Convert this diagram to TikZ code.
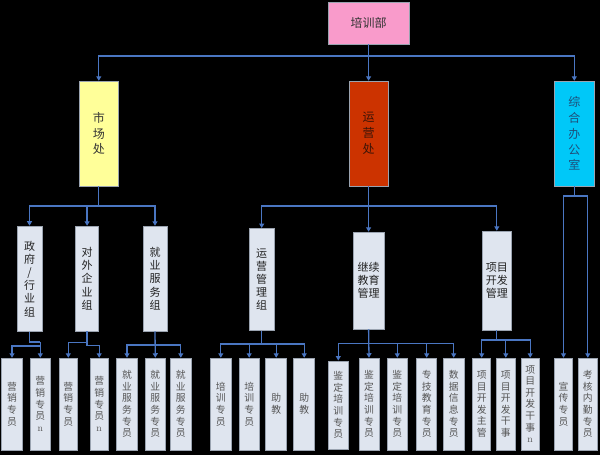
\documentclass[tikz,border=0pt]{standalone}
\usepackage{fontspec}
\newfontfamily\cjk{Noto Sans CJK SC}
\usetikzlibrary{arrows.meta}
\definecolor{linec}{HTML}{4A76C2}
\definecolor{boxfill}{HTML}{DFE5EF}
\definecolor{boxline}{HTML}{9AA3B0}
\definecolor{pinkc}{HTML}{F99BCB}
\definecolor{yellowc}{HTML}{FFFF99}
\definecolor{redc}{HTML}{CC3300}
\definecolor{cyanc}{HTML}{00C8F8}
\definecolor{midtext}{HTML}{222222}
\definecolor{lowtext}{HTML}{555555}
\definecolor{toptext}{HTML}{333333}
\definecolor{offtext}{HTML}{1F4E79}
\definecolor{opstext}{HTML}{3A1408}
\newcommand{\sern}{{\normalfont\rmfamily n}}
\begin{document}
\begin{tikzpicture}[x=1pt,y=-1pt,
  conn/.style={draw=linec, line width=1.3pt},
  arr/.style={conn, -{Triangle[width=5pt,length=4.5pt]}},
  basebox/.style={draw=boxline, line width=0.5pt, inner sep=0pt, align=center},
  topbox/.style={basebox, text=toptext, font=\cjk\fontsize{12}{15.8}\selectfont},
  midbox/.style={basebox, fill=boxfill, text=midtext, font=\cjk\fontsize{11}{13.2}\selectfont},
  lowbox/.style={basebox, fill=boxfill, text=lowtext, font=\cjk\fontsize{9.8}{11.6}\selectfont, minimum height=92pt},
]
\fill[black] (0,0) rectangle (600,455);
\useasboundingbox (0,0) rectangle (600,455);

% top level
\node[topbox, fill=pinkc, minimum width=81.5pt, minimum height=42pt] (top) at (368.6,23) {培训部};
\node[topbox, fill=yellowc, minimum width=39.6pt, minimum height=105pt] (mkt) at (98.8,133.5) {市\\场\\处};
\node[topbox, fill=redc, text=opstext, minimum width=39.7pt, minimum height=105pt] (ops) at (368.6,133.5) {运\\营\\处};
\node[topbox, fill=cyanc, text=offtext, minimum width=39.5pt, minimum height=105pt] (off) at (574.3,133.5) {综\\合\\办\\公\\室};

\coordinate (j0) at (368.6,56);
\draw[arr] (top.south) -- (ops.north);
\draw[arr] (j0) -| (mkt.north);
\draw[arr] (j0) -| (off.north);

% middle level
\node[midbox, minimum width=25pt, minimum height=105.5pt] (g1) at (29.5,278.7) {政\\府\\/\\行\\业\\组};
\node[midbox, minimum width=23.2pt, minimum height=105pt] (g2) at (87.1,278.5) {对\\外\\企\\业\\组};
\node[midbox, minimum width=24pt, minimum height=105pt] (g3) at (155,278.5) {就\\业\\服\\务\\组};
\node[midbox, minimum width=24.5pt, minimum height=102.4pt] (g4) at (261.7,279.5) {运\\营\\管\\理\\组};
\node[midbox, minimum width=31.3pt, minimum height=97pt] (g5) at (368.6,280.5) {继续\\教育\\管理};
\node[midbox, minimum width=29.7pt, minimum height=99pt] (g6) at (496.8,280.5) {项目\\开发\\管理};

\coordinate (jm) at (98.8,206);
\draw[conn] (mkt.south) -- (jm);
\draw[arr] (jm) -| (g1.north);
\draw[arr] (jm) -| (g2.north);
\draw[arr] (jm) -| (g3.north);
\coordinate (jo) at (368.6,206);
\draw[arr] (ops.south) -- (g5.north);
\draw[arr] (jo) -| (g4.north);
\draw[arr] (jo) -| (g6.north);

% bottom level
\node[lowbox, minimum width=20.6pt] (b1) at (12,404) {营\\销\\专\\员};
\node[lowbox, minimum width=20.7pt] (b2) at (40.3,404) {营\\销\\专\\员\\\sern};
\node[lowbox, minimum width=18pt] (b3) at (68.3,404) {营\\销\\专\\员};
\node[lowbox, minimum width=18.3pt] (b4) at (99.2,404) {营\\销\\专\\员\\\sern};
\node[lowbox, minimum width=20.6pt] (b5) at (127,404) {就\\业\\服\\务\\专\\员};
\node[lowbox, minimum width=20.7pt] (b6) at (155.3,404) {就\\业\\服\\务\\专\\员};
\node[lowbox, minimum width=20.3pt] (b7) at (180.8,404) {就\\业\\服\\务\\专\\员};
\node[lowbox, minimum width=20.3pt] (b8) at (220.8,404) {培\\训\\专\\员};
\node[lowbox, minimum width=20.3pt] (b9) at (249.2,404) {培\\训\\专\\员};
\node[lowbox, minimum width=21pt] (b10) at (276.2,404) {助\\教};
\node[lowbox, minimum width=21pt] (b11) at (304.2,404) {助\\教};
\node[lowbox, minimum width=20pt, minimum height=88.5pt] (b12) at (338.3,405) {鉴\\定\\培\\训\\专\\员};
\node[lowbox, minimum width=20pt] (b13) at (369,404) {鉴\\定\\培\\训\\专\\员};
\node[lowbox, minimum width=19.3pt] (b14) at (397.3,404) {鉴\\定\\培\\训\\专\\员};
\node[lowbox, minimum width=20pt] (b15) at (426.7,404) {专\\技\\教\\育\\专\\员};
\node[lowbox, minimum width=20.7pt] (b16) at (453.7,404) {数\\据\\信\\息\\专\\员};
\node[lowbox, minimum width=18pt] (b17) at (481.7,404) {项\\目\\开\\发\\主\\管};
\node[lowbox, minimum width=18.3pt] (b18) at (505.8,404) {项\\目\\开\\发\\干\\事};
\node[lowbox, minimum width=18.3pt] (b19) at (530.2,404) {项\\目\\开\\发\\干\\事\\\sern};
\node[lowbox, minimum width=18.4pt] (b20) at (563.5,404) {宣\\传\\专\\员};
\node[lowbox, minimum width=19pt] (b21) at (587.8,404) {考\\核\\内\\勤\\专\\员};

% group 1 (staircase)
\coordinate (k1) at (29.5,342);
\coordinate (k1r) at (40.3,342);
\coordinate (k1b) at (40.3,346);
\draw[conn] (g1.south) -- (k1) -- (k1r);
\draw[arr] (k1r) -- (b2.north);
\draw[arr] (k1b) -| (b1.north);
% group 2
\coordinate (k2) at (87.1,342.5);
\coordinate (k2b) at (87.1,345.5);
\draw[conn] (g2.south) -- (k2b);
\draw[arr] (k2) -| (b3.north);
\draw[arr] (k2b) -| (b4.north);
% group 3
\coordinate (k3) at (155,345);
\draw[arr] (g3.south) -- (b6.north);
\draw[arr] (k3) -| (b5.north);
\draw[arr] (k3) -| (b7.north);
% group 4
\coordinate (k4) at (261.7,344);
\draw[conn] (g4.south) -- (k4);
\draw[arr] (k4) -| (b8.north);
\draw[arr] (k4) -| (b9.north);
\draw[arr] (k4) -| (b10.north);
\draw[arr] (k4) -| (b11.north);
% group 5
\coordinate (k5) at (368.6,343.3);
\draw[arr] (g5.south) -- (b13.north);
\draw[arr] (k5) -| (b12.north);
\draw[arr] (k5) -| (b14.north);
\draw[arr] (k5) -| (b15.north);
\draw[arr] (k5) -| (b16.north);
% group 6
\coordinate (k6) at (496.8,340);
\draw[conn] (g6.south) -- (k6);
\draw[arr] (k6) -| (b17.north);
\draw[arr] (k6) -| (b18.north);
\draw[arr] (k6) -| (b19.north);
% office
\coordinate (k7) at (574.3,196);
\draw[conn] (off.south) -- (k7);
\draw[arr] (k7) -| (b20.north);
\draw[arr] (k7) -| (b21.north);
\end{tikzpicture}
\end{document}
